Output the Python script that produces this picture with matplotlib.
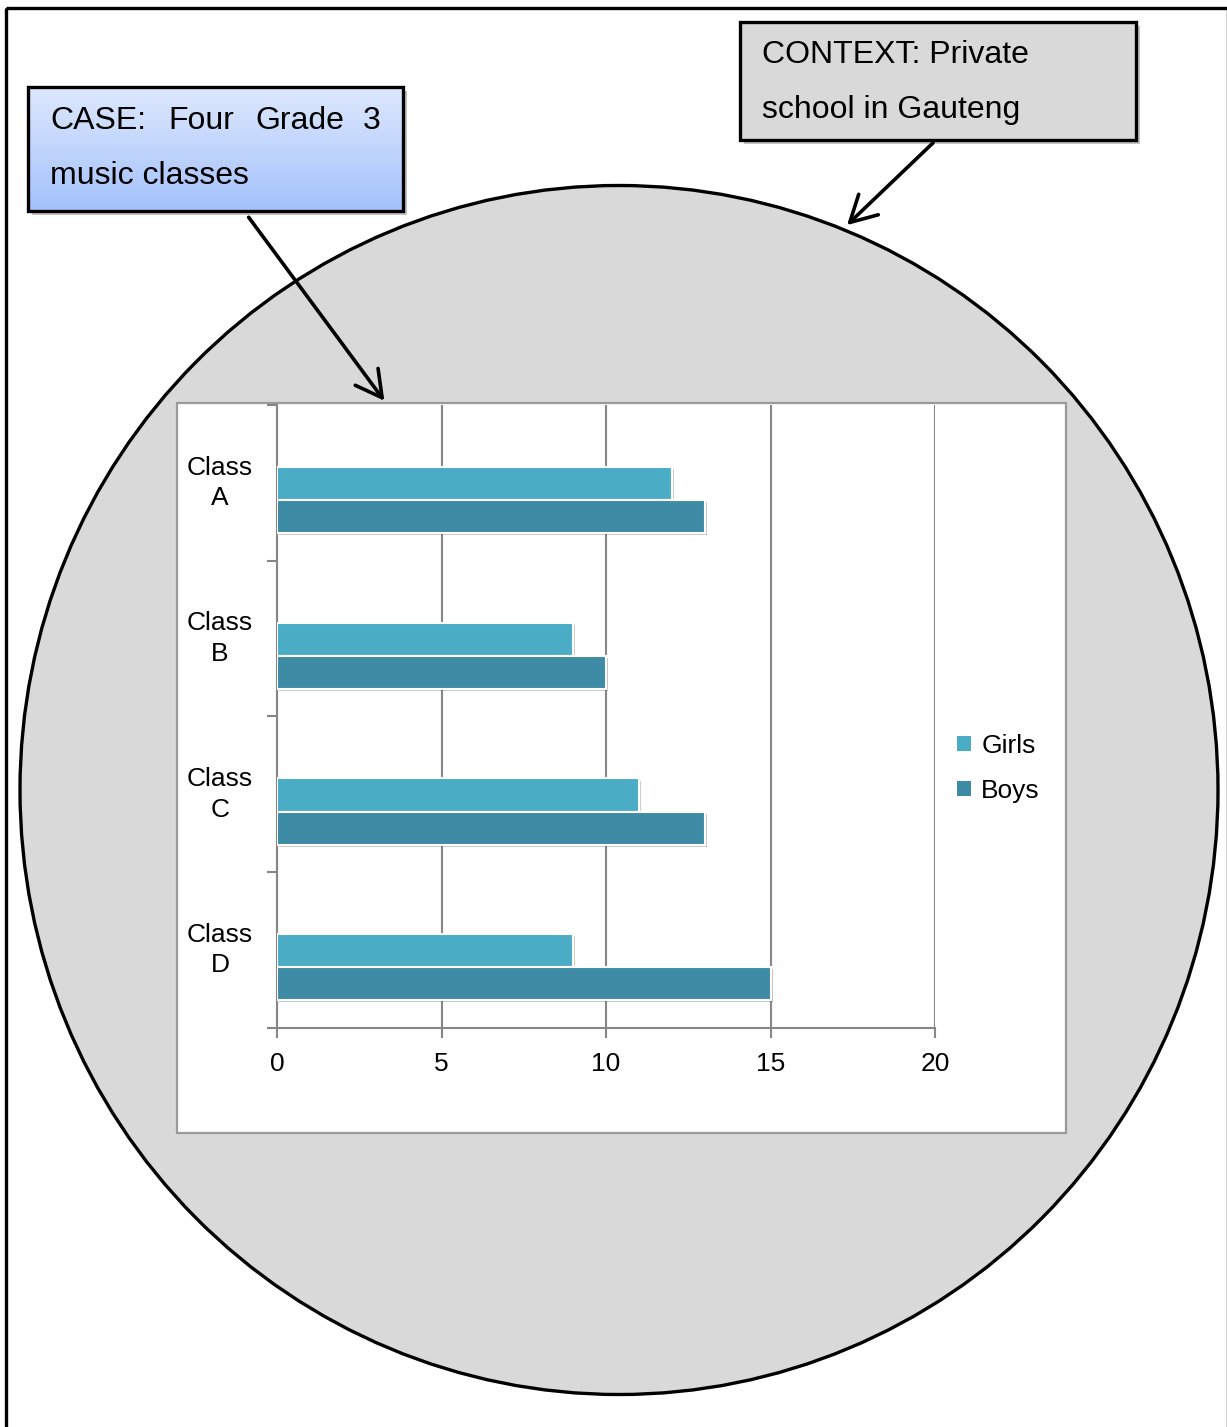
import matplotlib.pyplot as plt
import matplotlib.patches as mpatches
import matplotlib.patheffects as pe
import numpy as np

plt.rcParams['font.family'] = ['Liberation Sans', 'DejaVu Sans']

classes = ['Class\nA', 'Class\nB', 'Class\nC', 'Class\nD']
girls = [12, 9, 11, 9]
boys = [13, 10, 13, 15]
x_ticks = [0, 5, 10, 15, 20]

girls_color = '#4bacc6'
boys_color = '#3d8ba4'
grey_fill = '#d9d9d9'

W, H = 1227, 1427


def plot():
    fig = plt.figure(figsize=(W / 100, H / 100), dpi=100)

    # background canvas in pixel coordinates
    bg = fig.add_axes([0, 0, 1, 1], zorder=0)
    bg.set_xlim(0, W)
    bg.set_ylim(H, 0)
    bg.axis('off')

    bg.add_patch(mpatches.Rectangle((6, 8), 1222, 1440, fill=False,
                                    edgecolor='black', lw=2.4))
    bg.add_patch(mpatches.Ellipse((619, 790), 1198, 1209, facecolor=grey_fill,
                                  edgecolor='black', lw=2.4))

    # chart frame
    bg.add_patch(mpatches.Rectangle((177, 403), 889, 730, facecolor='white',
                                    edgecolor='#9a9a9a', lw=1.6))

    # CASE box with gradient
    bg.add_patch(mpatches.Rectangle((32, 91), 375, 124, facecolor='#555555',
                                    alpha=0.35, edgecolor='none'))
    grad = np.linspace(0, 1, 100).reshape(-1, 1)
    top = np.array([0.87, 0.91, 0.99])
    bot = np.array([0.64, 0.76, 0.99])
    img = top + (bot - top) * grad[:, :, None]
    im = bg.imshow(img, extent=(28, 403, 211, 87), aspect='auto', zorder=2)
    case_box = mpatches.Rectangle((28, 87), 375, 124, facecolor='none',
                                  edgecolor='black', lw=2.4, zorder=3)
    bg.add_patch(case_box)
    im.set_clip_path(case_box)
    for word, xw in [('CASE:', 50), ('Four', 168), ('Grade', 255), ('3', 363)]:
        bg.text(xw, 121, word, fontsize=23, va='center', ha='left', zorder=4)
    bg.text(50, 176, 'music classes', fontsize=23, va='center', ha='left', zorder=4)

    # CONTEXT box
    bg.add_patch(mpatches.Rectangle((744, 26), 396, 118, facecolor='#555555',
                                    alpha=0.35, edgecolor='none'))
    bg.add_patch(mpatches.Rectangle((740, 22), 396, 118, facecolor=grey_fill,
                                    edgecolor='black', lw=2.4, zorder=3))
    bg.text(762, 55, 'CONTEXT: Private', fontsize=23, va='center', ha='left', zorder=4)
    bg.text(762, 110, 'school in Gauteng', fontsize=23, va='center', ha='left', zorder=4)

    # arrows
    arrow_style = '->,head_length=0.55,head_width=0.3'
    bg.annotate('', xy=(386, 403), xytext=(247, 215),
                arrowprops=dict(arrowstyle=arrow_style, lw=2.6, color='black',
                                mutation_scale=34), zorder=5)
    bg.annotate('', xy=(845, 227), xytext=(935, 141),
                arrowprops=dict(arrowstyle=arrow_style, lw=2.6, color='black',
                                mutation_scale=34), zorder=5)

    # bar chart
    ax = fig.add_axes([277 / W, 1 - 1028 / H, 658 / W, 623 / H], zorder=1)
    ax.patch.set_alpha(0)
    y = np.arange(len(classes))
    h = 0.212
    shift = 0.11
    shadow = [pe.SimplePatchShadow(offset=(1.5, -1.5), alpha=0.25), pe.Normal()]
    ax.barh(y + shift - h / 2, girls, height=h, color=girls_color, edgecolor='white',
            lw=1.5, zorder=3, path_effects=shadow)
    ax.barh(y + shift + h / 2, boys, height=h, color=boys_color, edgecolor='white',
            lw=1.5, zorder=3, path_effects=shadow)

    ax.set_xlim(0, 20)
    ax.set_ylim(3.5, -0.5)
    ax.set_xticks(x_ticks)
    ax.set_xticklabels([str(t) for t in x_ticks], fontsize=19)
    ax.set_yticks([-0.5, 0.5, 1.5, 2.5, 3.5])
    ax.set_yticklabels([])
    ax.tick_params(axis='both', color='#868686', length=7, width=1.5)
    ax.tick_params(axis='x', pad=10)
    ax.grid(axis='x', color='#868686', lw=1.5, zorder=0)

    for i, label in enumerate(classes):
        ax.text(-57 / 658 * 20, i, label, fontsize=19, ha='center',
                va='center', linespacing=1.35)

    for side in ['top', 'right']:
        ax.spines[side].set_visible(False)
    for side in ['left', 'bottom']:
        ax.spines[side].set_color('#868686')
        ax.spines[side].set_linewidth(1.5)

    handles = [mpatches.Patch(facecolor=girls_color, label='Girls'),
               mpatches.Patch(facecolor=boys_color, label='Boys')]
    ax.legend(handles=handles, loc='center left', bbox_to_anchor=(1.0, 0.417),
              frameon=False, fontsize=19, handlelength=0.5, handleheight=0.5,
              handletextpad=0.4, labelspacing=0.78, borderaxespad=0.45)

    fig.savefig('out.png', dpi=100)


if __name__ == '__main__':
    plot()
